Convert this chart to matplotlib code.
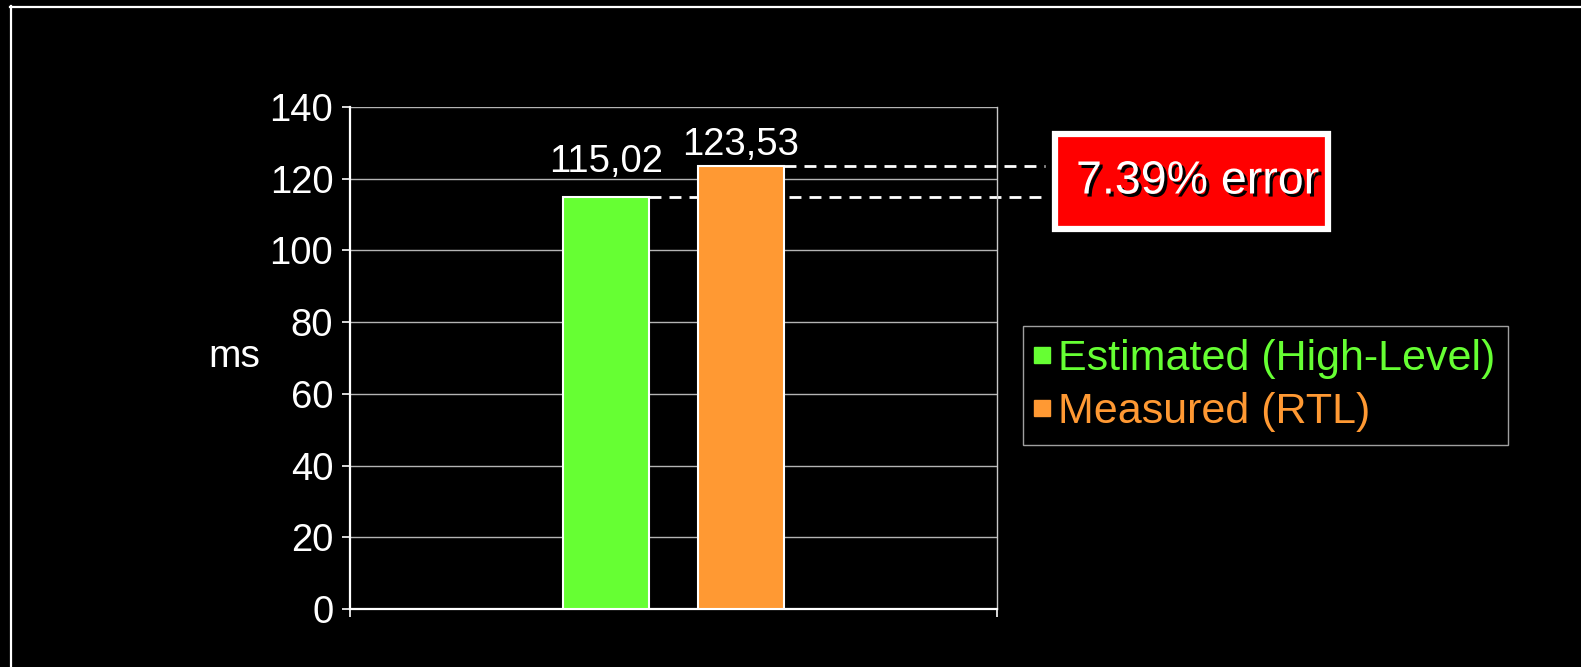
import matplotlib
matplotlib.use("Agg")
import matplotlib.pyplot as plt
import matplotlib.patheffects as pe
from matplotlib.lines import Line2D
from matplotlib.patches import Rectangle

plt.rcParams['font.family'] = ['Liberation Sans', 'DejaVu Sans']

# ---- data ----
series_names = ["Estimated (High-Level)", "Measured (RTL)"]
series_values = [115.02, 123.53]
value_labels = ["115,02", "123,53"]
series_colors = ["#66FF33", "#FF9933"]
y_ticks = [0, 20, 40, 60, 80, 100, 120, 140]
y_label = "ms"
error_text = "7.39% error"

W, H = 1581, 667
fig = plt.figure(figsize=(W / 100, H / 100), dpi=100, facecolor="black")

# outer slide frame (top and left lines)
fig.add_artist(Line2D([10 / W, 1.0], [1 - 7 / H, 1 - 7 / H], color="white", lw=1.6,
                      transform=fig.transFigure))
fig.add_artist(Line2D([11 / W, 11 / W], [0.0, 1 - 6 / H], color="white", lw=1.6,
                      transform=fig.transFigure))

ax = fig.add_axes([350 / W, 1 - 609 / H, 647 / W, 502 / H])
ax.set_facecolor("black")

bar_w = 0.133
offsets = [-0.104, 0.104]
ax.set_xlim(-0.5, 0.5)
ax.set_ylim(0, 140)

bars = []
for off, v, c in zip(offsets, series_values, series_colors):
    b = ax.bar(off, v, width=bar_w, color=c, edgecolor="white", linewidth=1.5, zorder=3)
    bars.append(b[0])

# value labels
label_pad = [25, 15]
for b, lab, pad in zip(bars, value_labels, label_pad):
    ax.annotate(lab, (b.get_x() + b.get_width() / 2, b.get_height()),
                xytext=(0, pad), textcoords="offset points",
                ha="center", va="center", color="white", fontsize=27.5, zorder=4)

# grid
ax.set_yticks(y_ticks)
ax.yaxis.grid(True, color="#b4b4b4", lw=1.0, zorder=0)
ax.set_axisbelow(True)
ax.set_xticks([-0.5, 0.5])
ax.set_xticklabels([])
ax.tick_params(axis="y", colors="white", labelsize=27.5, length=6, width=1.2, pad=6,
               direction="out")
ax.tick_params(axis="x", colors="white", length=6, width=1.2, direction="out")
ax.spines["top"].set_visible(False)
ax.spines["right"].set_color("#c8c8c8")
ax.spines["right"].set_linewidth(1.0)
for s in ["left", "bottom"]:
    ax.spines[s].set_color("white")
    ax.spines[s].set_linewidth(1.6)

ax.set_ylabel(y_label, rotation=0, color="white", fontsize=28, ha="center", va="center")
ax.yaxis.set_label_coords((234 - 350) / 647, (609 - 357) / 502)

# error box (figure coords)
bx0, bx1 = 1055 / W, 1328 / W
by0, by1 = 1 - 229 / H, 1 - 134 / H
fig.add_artist(Rectangle((bx0, by0), bx1 - bx0, by1 - by0, transform=fig.transFigure,
                         facecolor="#FF0000", edgecolor="white", linewidth=4.5, zorder=5))
fig.text((bx0 + bx1) / 2 + 6 / W, (by0 + by1) / 2, error_text, color="white", fontsize=33.5,
         ha="center", va="center", zorder=6,
         path_effects=[pe.withSimplePatchShadow(offset=(2.2, -2.2), shadow_rgbFace="black",
                                                alpha=1.0)])

# dashed reference lines from bar tops to the box
xl0, xl1 = ax.get_xlim()
end_ax = (1045 - 350) / 647
for b, v in zip(bars, series_values):
    start_ax = (b.get_x() + b.get_width() - xl0) / (xl1 - xl0)
    ax.plot([start_ax, end_ax], [v, v], transform=ax.get_yaxis_transform(),
            color="white", lw=2.0, dashes=(4.3, 2.9), clip_on=False, zorder=2)

# legend
handles = [Line2D([], [], marker="s", linestyle="none", markersize=11.5,
                  markerfacecolor=c, markeredgecolor=c) for c in series_colors]
leg = fig.legend(handles, series_names, loc="upper left",
                 bbox_to_anchor=(1023 / W, 1 - 326 / H), bbox_transform=fig.transFigure,
                 fontsize=31, frameon=True, fancybox=False, borderaxespad=0,
                 handlelength=0.3, handletextpad=0.22, borderpad=0.3, labelspacing=0.3,
                 facecolor="black", edgecolor="#c8c8c8")
leg.get_frame().set_linewidth(1.0)
for t, c in zip(leg.get_texts(), series_colors):
    t.set_color(c)

fig.savefig("out.png", dpi=100, facecolor="black")
